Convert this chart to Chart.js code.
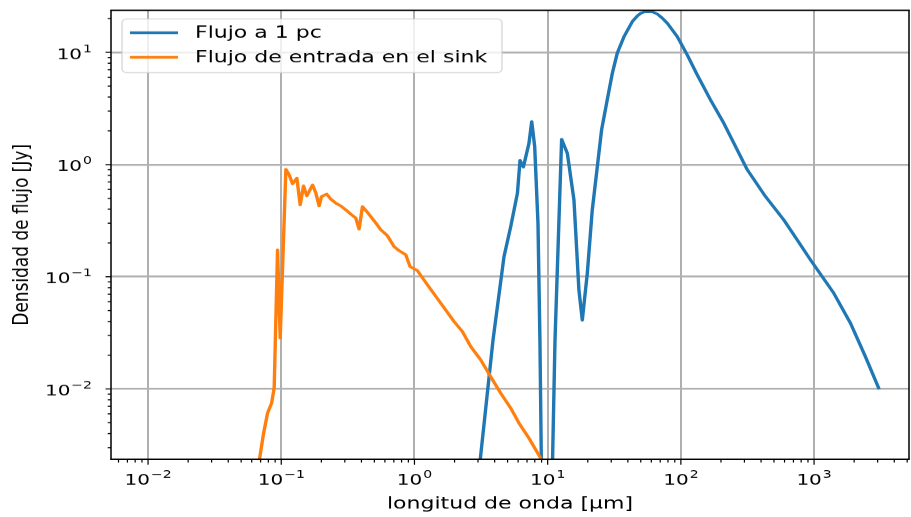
<!DOCTYPE html>
<html>
<head>
<meta charset="utf-8">
<script src="https://cdn.jsdelivr.net/npm/chart.js@4.4.0/dist/chart.umd.min.js"></script>
<style>
    html, body { margin: 0; padding: 0; background: #fff; overflow: hidden; }
    #wrap {
        width: 911px;
        height: 672px;
        transform: scaleY(0.76935);
        transform-origin: 0 0;
    }
</style>
</head>
<body>
<div id="wrap"><canvas id="sedChart" width="911" height="672"></canvas></div>
<script>
// Espectro del modelo: flujo a 1 pc y flujo de entrada en el sink
const blueWavelength = [3.1, 3.89, 4.70, 5.28, 5.93, 6.20, 6.57, 7.24, 7.59, 7.99, 8.46, 8.75, 9.0,
    10.8, 11.35, 12.73, 14.05, 15.75, 17.17, 18.2, 19.85, 21.6, 23.6, 25.4, 28.0, 30.6, 33.3, 37.4,
    43.2, 47.1, 49.9, 53.5, 57.5, 61.0, 66.5, 72.5, 79.1, 94.0, 111.7, 132.8, 167, 210, 250, 315, 432,
    593, 747, 940, 1406, 1876, 2430, 3055];
const blueFlux = [0.0022, 0.0274, 0.151, 0.280, 0.556, 1.09, 0.95, 1.55, 2.42, 1.45, 0.30, 0.027, 0.0015,
    0.0015, 0.027, 1.68, 1.26, 0.485, 0.076, 0.041, 0.108, 0.39, 0.96, 2.04, 3.77, 6.53, 9.84, 13.8,
    18.8, 21.1, 22.3, 23.0, 23.1, 23.0, 22.0, 20.2, 18.2, 13.8, 9.5, 6.30, 3.77, 2.34, 1.55, 0.90, 0.519,
    0.321, 0.213, 0.1415, 0.0714, 0.0386, 0.0194, 0.0102];

const orangeWavelength = [0.068, 0.0737, 0.0789, 0.0846, 0.0885, 0.0938, 0.0982, 0.1083, 0.1147, 0.1216,
    0.131, 0.1387, 0.147, 0.1556, 0.1718, 0.182, 0.1924, 0.2005, 0.2197, 0.2355, 0.257, 0.280, 0.305,
    0.333, 0.363, 0.384, 0.407, 0.449, 0.513, 0.559, 0.627, 0.703, 0.766, 0.861, 0.927, 1.053, 1.252,
    1.575, 1.982, 2.29, 2.645, 3.14, 3.73, 4.44, 5.28, 6.09, 7.24, 8.85, 9.3];
const orangeFlux = [0.0022, 0.00404, 0.00608, 0.00747, 0.0102, 0.174, 0.0284, 0.91, 0.81, 0.673,
    0.757, 0.437, 0.646, 0.526, 0.659, 0.556, 0.428, 0.519, 0.545, 0.492, 0.453, 0.428, 0.395,
    0.361, 0.333, 0.266, 0.422, 0.369, 0.301, 0.262, 0.232, 0.186, 0.171, 0.157, 0.123, 0.1135, 0.0847,
    0.0582, 0.0399, 0.0325, 0.0239, 0.0182, 0.0129, 0.00918, 0.00675, 0.00496, 0.00364, 0.00242, 0.0020];

// major tick values and their exponents (labels are drawn as 10^exp)
const xMajor = [0.01, 0.1, 1, 10, 100, 1000];
const xMajorExp = ['−2', '−1', '0', '1', '2', '3'];
const yMajor = [0.01, 0.1, 1, 10];
const yMajorExp = ['−2', '−1', '0', '1'];

const xMin = 0.00527, xMax = 5160;
const yMin = 0.00236, yMax = 23.7;

const FONT = "'DejaVu Sans', 'Liberation Sans', sans-serif";
const BASE_SIZE = 20;
const EXP_SIZE = 14;

function toPoints(xs, ys) {
    return xs.map((x, i) => ({ x: x, y: ys[i] }));
}

// ticks 1..9 x 10^e inside [min, max]; only the powers of ten are major
function logTicks(min, max) {
    const out = [];
    for (let e = Math.floor(Math.log10(min)); e <= Math.ceil(Math.log10(max)); e++) {
        for (let m = 1; m < 10; m++) {
            const v = Number(m + 'e' + e);
            if (v >= min && v <= max) out.push({ value: v, isMajor: m === 1 });
        }
    }
    return out;
}

function isMajorValue(value) {
    if (!value) return false;
    const l = Math.log10(value);
    return Math.abs(l - Math.round(l)) < 1e-9;
}

function noScalePadding(scale) {
    scale.paddingTop = 0;
    scale.paddingBottom = 0;
    scale.paddingLeft = 0;
    scale.paddingRight = 0;
}

// draws "10" with a raised exponent; anchorX is the centre ('center') or right edge ('right')
function drawPower(ctx, exp, anchorX, midY, align) {
    ctx.font = BASE_SIZE + 'px ' + FONT;
    const wb = ctx.measureText('10').width;
    ctx.font = EXP_SIZE + 'px ' + FONT;
    const we = ctx.measureText(exp).width + 1;
    const w = wb + we;
    const left = align === 'center' ? anchorX - w / 2 : anchorX - w;
    const baseline = midY + BASE_SIZE * 0.365;
    ctx.font = BASE_SIZE + 'px ' + FONT;
    ctx.fillText('10', left, baseline);
    ctx.font = EXP_SIZE + 'px ' + FONT;
    ctx.fillText(exp, left + wb + 1, baseline - 9);
}

// matplotlib-like frame, tick marks, tick labels and legend box
const axesFrame = {
    id: 'axesFrame',
    afterDraw(chart) {
        const { ctx, chartArea: a, scales } = chart;
        ctx.save();
        ctx.strokeStyle = '#000';

        ctx.lineWidth = 1.2;
        scales.x.ticks.forEach(t => {
            const px = scales.x.getPixelForValue(t.value);
            const len = t.isMajor ? 7 : 4.3;
            ctx.beginPath();
            ctx.moveTo(px, a.bottom);
            ctx.lineTo(px, a.bottom + len);
            ctx.stroke();
        });
        ctx.lineWidth = 1.4;
        scales.y.ticks.forEach(t => {
            const py = scales.y.getPixelForValue(t.value);
            const len = t.isMajor ? 5.5 : 3.3;
            ctx.beginPath();
            ctx.moveTo(a.left, py);
            ctx.lineTo(a.left - len, py);
            ctx.stroke();
        });

        // tick labels
        ctx.fillStyle = '#000';
        ctx.textAlign = 'left';
        ctx.textBaseline = 'alphabetic';
        xMajor.forEach((v, i) => {
            drawPower(ctx, xMajorExp[i], scales.x.getPixelForValue(v), a.bottom + 25.5, 'center');
        });
        yMajor.forEach((v, i) => {
            drawPower(ctx, yMajorExp[i], a.left - 19, scales.y.getPixelForValue(v) + 1.3, 'right');
        });

        // spines
        ctx.lineWidth = 1.5;
        ctx.beginPath();
        ctx.moveTo(a.left, a.top); ctx.lineTo(a.left, a.bottom);
        ctx.moveTo(a.right, a.top); ctx.lineTo(a.right, a.bottom);
        ctx.stroke();
        ctx.lineWidth = 1.9;
        ctx.beginPath();
        ctx.moveTo(a.left - 0.75, a.top); ctx.lineTo(a.right + 0.75, a.top);
        ctx.moveTo(a.left - 0.75, a.bottom); ctx.lineTo(a.right + 0.75, a.bottom);
        ctx.stroke();

        // legend
        const lx = 122, ly = 24.7, lw = 380, lh = 69.8;
        ctx.beginPath();
        ctx.roundRect(lx, ly, lw, lh, 5);
        ctx.fillStyle = 'rgba(255,255,255,0.8)';
        ctx.fill();
        ctx.strokeStyle = 'rgba(204,204,204,0.8)';
        ctx.lineWidth = 1.3;
        ctx.stroke();

        ctx.font = '22px ' + FONT;
        ctx.textBaseline = 'middle';
        ctx.textAlign = 'left';
        chart.data.datasets.forEach((ds, i) => {
            const y = 42.5 + i * 32;
            ctx.strokeStyle = ds.borderColor;
            ctx.lineWidth = 3.3;
            ctx.lineCap = 'butt';
            ctx.beginPath();
            ctx.moveTo(130, y);
            ctx.lineTo(178, y);
            ctx.stroke();
            ctx.fillStyle = '#000';
            ctx.fillText(ds.label, 195, y + 1);
        });
        ctx.restore();
    }
};

const ctx = document.getElementById('sedChart').getContext('2d');
new Chart(ctx, {
    type: 'line',
    data: {
        datasets: [
            {
                label: 'Flujo a 1 pc',
                data: toPoints(blueWavelength, blueFlux),
                borderColor: '#1f77b4',
                borderWidth: 3.4,
                order: 1
            },
            {
                label: 'Flujo de entrada en el sink',
                data: toPoints(orangeWavelength, orangeFlux),
                borderColor: '#ff7f0e',
                borderWidth: 3.4,
                order: 0
            }
        ]
    },
    options: {
        responsive: false,
        animation: false,
        layout: { padding: { top: 13.4, right: 2, left: 0, bottom: 0 } },
        elements: {
            point: { radius: 0 },
            line: { tension: 0, borderJoinStyle: 'round', borderCapStyle: 'square', fill: false }
        },
        datasets: { line: { clip: 0 } },
        plugins: {
            legend: { display: false },
            tooltip: { enabled: false }
        },
        scales: {
            x: {
                type: 'logarithmic',
                min: xMin,
                max: xMax,
                afterBuildTicks: scale => { scale.ticks = logTicks(xMin, xMax); },
                afterFit: scale => { scale.height = 75; noScalePadding(scale); },
                border: { display: false },
                grid: {
                    drawTicks: false,
                    lineWidth: 2,
                    color: c => (c.tick && isMajorValue(c.tick.value)) ? '#b0b0b0' : 'rgba(0,0,0,0)'
                },
                ticks: { display: false, autoSkip: false, maxRotation: 0, minRotation: 0 },
                title: {
                    display: true,
                    text: 'longitud de onda [μm]',
                    color: '#000',
                    font: { family: FONT, size: 22 },
                    padding: { top: 0, bottom: 3.5 }
                }
            },
            y: {
                type: 'logarithmic',
                min: yMin,
                max: yMax,
                afterBuildTicks: scale => { scale.ticks = logTicks(yMin, yMax); },
                afterFit: scale => { scale.width = 111; noScalePadding(scale); },
                border: { display: false },
                grid: {
                    drawTicks: false,
                    lineWidth: 2.5,
                    color: c => (c.tick && isMajorValue(c.tick.value)) ? '#b0b0b0' : 'rgba(0,0,0,0)'
                },
                ticks: { display: false, autoSkip: false },
                title: {
                    display: true,
                    text: 'Densidad de flujo [Jy]',
                    color: '#000',
                    font: { family: FONT, size: 22 },
                    padding: { top: 9, bottom: 0 }
                }
            }
        }
    },
    plugins: [axesFrame]
});
</script>
</body>
</html>
